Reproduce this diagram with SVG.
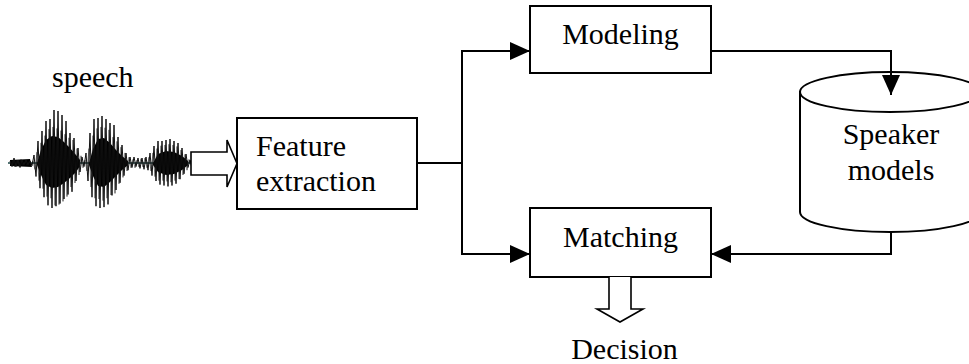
<svg xmlns="http://www.w3.org/2000/svg" width="969" height="364" viewBox="0 0 969 364">
<style>
  .box{fill:#fff;stroke:#000;stroke-width:2}
  .lbl{font-size:30px;fill:#000}
  .mid{text-anchor:middle}
  .conn{fill:none;stroke:#000;stroke-width:2}
  .hollow{fill:#fff;stroke:#000;stroke-width:1.6;stroke-linejoin:miter}
</style>
<defs>
  <marker id="arr" viewBox="0 0 20 18" refX="20" refY="9" markerWidth="20" markerHeight="18" markerUnits="userSpaceOnUse" orient="auto">
    <path d="M0,0 L20,9 L0,18 Z" fill="#000"/>
  </marker>
</defs>
<rect width="969" height="364" fill="#fff"/>

<g font-family="'Liberation Serif', 'Times New Roman', serif">
<g id="speech">
  <text class="lbl" x="52" y="87">speech</text>
  <g id="waveform">
    <line x1="8" y1="163" x2="192" y2="163" stroke="#1a4444" stroke-width="1.5"/>
    <path fill="#000" d="M37,163 L41,150 L46,140 L52,136 L58,137 L64,142 L70,148 L76,155 L80,160 L80,166 L76,172 L70,178 L64,183 L58,187 L52,188 L46,185 L41,175 L37,165 Z M89,163 L93,149 L98,139 L104,138 L110,143 L116,150 L122,156 L128,161 L128,165 L122,170 L116,176 L110,182 L104,187 L98,186 L93,176 L89,165 Z M153,163 L158,154 L166,151 L174,152 L182,156 L188,161 L188,165 L182,170 L174,174 L166,175 L158,172 L153,165 Z M10,160 L30,159 L32,167 L10,166 Z"/>
    <path id="wz" fill="none" stroke="#111" stroke-width="1" d="M10,161 L12,166.6 L14,158 L16,166.6 L18,160 L20,167.5 L22,160 L24,164.8 L26,160 L28,164.8 L30,161 L32,165.7 L34,155 L36,176.5 L38,141 L40,188.2 L42,131 L44,197.2 L46,121 L48,205.3 L50,119 L52,208 L54,110 L56,206.2 L58,111 L60,203.5 L62,115 L64,199 L66,121 L68,194.5 L70,133 L72,191.8 L74,138 L76,181 L78,148 L80,172 L82,157 L84,166.6 L86,153 L88,181 L90,133 L92,197.2 L94,119 L96,206.2 L98,118 L100,208 L102,116 L104,207.1 L106,119 L108,204.4 L110,123 L112,195.4 L114,125 L116,190 L118,137 L120,182.8 L122,145 L124,175.6 L126,153 L128,170.2 L130,157 L132,167.5 L134,157 L136,166.6 L138,158 L140,168.4 L142,158 L144,169.3 L146,157 L148,170.2 L150,153 L152,175.6 L154,146 L156,181 L158,141 L160,184.6 L162,141 L164,185.5 L166,140 L168,186.4 L170,139 L172,185.5 L174,141 L176,183.7 L178,143 L180,179.2 L182,148 L184,173.8 L186,154 L188,167.5 L190,160 L191,163"/>
    <use href="#wz" transform="translate(1,293.4) scale(1,-0.8)" opacity="0.6"/>
  </g>
  <path class="hollow" d="M191,152 L227,152 L227,140 L237,163.5 L227,187 L227,175 L191,175 Z"/>
</g>

<g id="feature">
  <rect class="box" x="237" y="118" width="180" height="91"/>
  <text class="lbl" x="256" y="156">Feature</text>
  <text class="lbl" x="256" y="191">extraction</text>
</g>

<g id="modeling">
  <rect class="box" x="530" y="6" width="181" height="67"/>
  <text class="lbl mid" x="620.5" y="44">Modeling</text>
</g>

<g id="matching">
  <rect class="box" x="530" y="208" width="181" height="69"/>
  <text class="lbl mid" x="620.5" y="246.5">Matching</text>
</g>

<g id="speaker-models">
  <path class="box" d="M800,92 L800,212 A90,20 0 0,0 980,212 L980,92 Z"/>
  <ellipse class="box" cx="890" cy="92" rx="90" ry="20"/>
  <text class="lbl mid" x="891" y="144">Speaker</text>
  <text class="lbl mid" x="891" y="180">models</text>
</g>

<g id="decision">
  <path class="hollow" d="M609,277 L609,309 L597,309 L620,322 L643,309 L631,309 L631,277"/>
  <text class="lbl mid" x="624.5" y="359">Decision</text>
</g>
</g>

<g id="connectors">
  <path class="conn" d="M417,163 H462"/>
  <path class="conn" d="M462,163 V51 H530" marker-end="url(#arr)"/>
  <path class="conn" d="M462,163 V254 H530" marker-end="url(#arr)"/>
  <path class="conn" d="M711,51 H891 V95" marker-end="url(#arr)"/>
  <path class="conn" d="M891,232 V254 H711" marker-end="url(#arr)"/>
</g>
</svg>
